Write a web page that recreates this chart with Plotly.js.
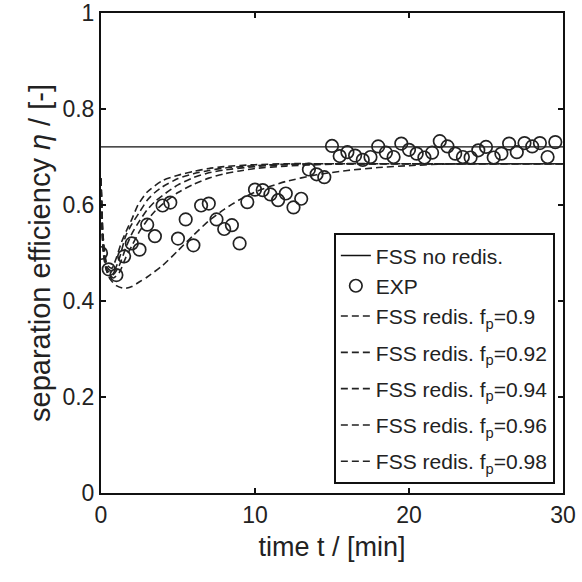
<!DOCTYPE html>
<html>
<head>
<meta charset="utf-8">
<script src="https://cdn.plot.ly/plotly-3.0.1.min.js"></script>
<style>html,body{margin:0;padding:0;background:#fff;}#chart{width:582px;height:582px;}</style>
</head>
<body>
<div id="chart"></div>
<script>
// FSS without redistribution (constant)
const noRedisT = [0, 30];
const noRedisY = [0.721, 0.721];

// Experimental data
const expT = [0,0.5,1,1.5,2,2.5,3,3.5,4,4.5,5,5.5,6,6.5,7,7.5,8,8.5,9,9.5,10,10.5,11,11.5,12,12.5,13,13.5,14,14.5,
              15,15.5,16,16.5,17,17.5,18,18.5,19,19.5,20,20.5,21,21.5,22,22.5,23,23.5,24,24.5,25,25.5,26,26.5,27,27.5,28,28.5,29,29.5];
const expY = [0.500,0.466,0.454,0.493,0.520,0.507,0.559,0.535,0.599,0.605,0.530,0.570,0.516,0.599,0.603,0.570,0.550,0.558,0.520,0.606,
              0.632,0.631,0.622,0.610,0.624,0.595,0.613,0.674,0.664,0.658,
              0.723,0.702,0.710,0.703,0.694,0.700,0.722,0.709,0.700,0.728,0.715,0.707,0.699,0.709,0.733,0.722,0.707,0.700,0.699,0.714,
              0.721,0.699,0.707,0.728,0.710,0.729,0.722,0.729,0.700,0.731];

// FSS with redistribution, different f_p
const fp = ["0.9", "0.92", "0.94", "0.96", "0.98"];
const redisT1 = [0,0.15,0.4,0.7,1.0,1.3,1.7,2.0,2.4,3.0,4.0,5.0,6.0,7.0,8.0,10,12,15,20,25,30];
const redisY1 = [0.655,0.53,0.475,0.468,0.49,0.52,0.55,0.57,0.60,0.627,0.651,0.662,0.670,0.676,0.680,0.684,0.686,0.686,0.686,0.686,0.686];
const redisT2 = [0,0.15,0.4,0.8,1.2,1.6,2.0,2.5,3.0,3.5,4.0,5.0,6.0,7.0,8.0,10,12,15,20,25,30];
const redisY2 = [0.655,0.52,0.47,0.46,0.49,0.535,0.56,0.585,0.61,0.626,0.638,0.655,0.665,0.672,0.677,0.682,0.685,0.686,0.686,0.686,0.686];
const redisT3 = [0,0.15,0.4,0.8,1.2,1.6,2.0,2.5,3.0,3.5,4.0,5.0,6.0,7.0,8.0,10,12,15,20,25,30];
const redisY3 = [0.655,0.51,0.465,0.455,0.475,0.51,0.54,0.567,0.59,0.607,0.62,0.642,0.657,0.667,0.673,0.680,0.684,0.686,0.686,0.686,0.686];
const redisT4 = [0,0.15,0.4,0.8,1.2,1.6,2.0,2.5,3.0,3.5,4.0,5.0,6.0,7.0,8.0,9,10,12,15,20,25,30];
const redisY4 = [0.655,0.5,0.46,0.448,0.46,0.49,0.515,0.545,0.568,0.587,0.602,0.626,0.643,0.656,0.665,0.671,0.676,0.681,0.685,0.686,0.686,0.686];
const redisT5 = [0,0.1,0.3,0.6,1.0,1.5,2.0,2.5,3.0,4.0,5.0,6.0,7.0,8.0,9.0,10,11,12,14,16,18,20,22,25,30];
const redisY5 = [0.655,0.53,0.47,0.445,0.432,0.426,0.43,0.44,0.45,0.474,0.505,0.537,0.567,0.591,0.611,0.627,0.639,0.649,0.663,0.672,0.678,0.682,0.685,0.686,0.686];

const xTicks = [0, 10, 20, 30];
const yTicks = [0, 0.2, 0.4, 0.6, 0.8, 1];
const yTickText = ["0", "0.2", "0.4", "0.6", "0.8", "1"];

const redisT = [redisT1, redisT2, redisT3, redisT4, redisT5];
const redisY = [redisY1, redisY2, redisY3, redisY4, redisY5];
const groups = ['g0', 'g1', 'g2', 'g3', 'g4'];

const traces = [
  {x: noRedisT, y: noRedisY, mode: 'lines', name: 'FSS no redis.', legendgroup: 'g0',
   line: {color: '#111', width: 1.4}},
  {x: expT, y: expY, mode: 'markers', name: 'EXP', legendgroup: 'g0',
   marker: {symbol: 'circle-open', size: 12.5, color: '#222', line: {width: 1.7, color: '#222'}}}
];
for (let i = 0; i < fp.length; i++) {
  traces.push({x: redisT[i], y: redisY[i], mode: 'lines', legendgroup: groups[i],
    line: {shape: 'spline', smoothing: 0.6, color: '#222', width: 1.6, dash: '7px,4px'},
    name: 'FSS redis. f<sub>p</sub>=' + fp[i]});
}

const fontFam = '"Liberation Sans", Arial, sans-serif';
const layout = {
  width: 582, height: 582,
  margin: {l: 101, r: 19, t: 13, b: 89},
  paper_bgcolor: '#fff', plot_bgcolor: '#fff',
  font: {family: fontFam, color: '#222', size: 20},
  showlegend: true,
  legend: {x: 0.504, y: 0.541, xanchor: 'left', yanchor: 'top',
           bgcolor: '#fff', bordercolor: '#111', borderwidth: 2,
           font: {family: fontFam, size: 21, color: '#222'}, itemwidth: 30, tracegroupgap: 6},
  xaxis: {range: [0, 30], tickvals: xTicks, ticktext: xTicks.map(String), ticks: 'inside', ticklen: 5, tickwidth: 1.5,
          tickcolor: '#111', showline: true, linecolor: '#111', linewidth: 2, mirror: 'allticks', showgrid: false, zeroline: false,
          ticklabeloverflow: 'allow',
          tickfont: {size: 23}, title: {text: 'time t / [min]', font: {size: 27}, standoff: 11}},
  yaxis: {range: [0, 1], tickvals: yTicks, ticktext: yTickText, ticks: 'inside', ticklen: 5, tickwidth: 1.5,
          tickcolor: '#111', showline: true, linecolor: '#111', linewidth: 2, mirror: 'allticks', showgrid: false, zeroline: false,
          ticklabeloverflow: 'allow',
          tickfont: {size: 23}, title: {text: 'separation efficiency <i>η</i> / [-]', font: {size: 29}, standoff: 3}}
};
Plotly.newPlot('chart', traces, layout, {displayModeBar: false, staticPlot: true});
</script>
</body>
</html>
